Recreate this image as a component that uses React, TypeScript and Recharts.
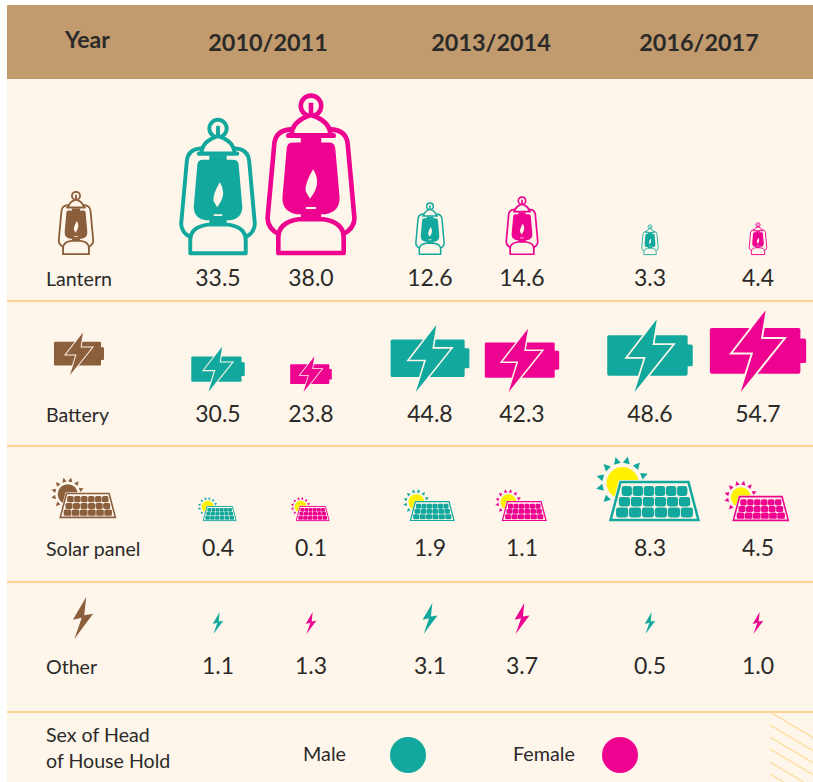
import { ReferenceArea, ReferenceLine, Scatter, ScatterChart, XAxis, YAxis } from "recharts";

const years = ["2010/2011", "2013/2014", "2016/2017"];
const sexes = ["Male", "Female"];
const sources = ["Lantern", "Battery", "Solar panel", "Other"];

const lanternMale = [33.5, 12.6, 3.3];
const lanternFemale = [38.0, 14.6, 4.4];
const batteryMale = [30.5, 44.8, 48.6];
const batteryFemale = [23.8, 42.3, 54.7];
const solarMale = [0.4, 1.9, 8.3];
const solarFemale = [0.1, 1.1, 4.5];
const otherMale = [1.1, 3.1, 0.5];
const otherFemale = [1.3, 3.7, 1.0];

const legendTitle = ["Sex of Head", "of House Hold"];

// layout, in page pixels (both axes run 0-813 / 0-782)
const W = 813;
const H = 782;
const yearX = [268, 491, 699];
const maleX = [218, 430, 650];
const femaleX = [311, 522, 758];
const rowTextY = [278, 414, 548, 666];
const iconBottom = [255, 392, 521, 634];
const keyX = [76, 79, 85, 83];
const keyBottom = [255, 375, 518, 639];
const dividers = [301, 446, 582, 712];
const hatchStarts = [712, 725, 737, 749, 762, 774];

const TEAL = "#12A89D";
const PINK = "#EE0290";
const BROWN = "#8B5E3C";
const CREAM = "#FEF6EA";
const INK = "#2B2A29";
const FONT = "Lato, sans-serif";

const sexColor: Record<string, string> = { Male: TEAL, Female: PINK };

// icon sizes grow with the value, fitted by eye per row
const lanternHeight = (v: number) => Math.max(30, 25 + 1.5 * v + 0.055 * v * v);
const batteryWidth = (v: number) => 1.77 * v - 0.5;
const solarWidth = (v: number) => (v < 1 ? 37 : v < 2 ? 49 : 18 + 9.74 * v);
const boltHeight = (v: number) => (v < 2 ? 22 : 31);

const Lantern = ({ cx, bottom, h, color }: any) => {
  const s = h / 158;
  return (
    <g transform={`translate(${cx - 44 * s} ${bottom - h}) scale(${s})`}>
      <circle cx={44} cy={12} r={10} fill="none" stroke={color} strokeWidth={4.5} />
      <path d="M44 9V20" stroke={color} strokeWidth={4.5} />
      <path d="M25 41Q25 27 44 21Q63 27 63 41" fill={CREAM} stroke={color} strokeWidth={4.5} />
      <path d="M22 41H66" stroke={color} strokeWidth={5} strokeLinecap="round" />
      <path
        d="M24 35Q9 36 8 50L1.5 122Q1.5 132 13 138M64 35Q79 36 80 50L86.5 122Q86.5 132 75 138"
        fill="none"
        stroke={color}
        strokeWidth={4.5}
        strokeLinecap="round"
      />
      <rect x={34} y={43} width={20} height={7} fill={color} />
      <path
        d="M26 48H62Q68 48 68 56L72 102Q72 116 58 118H30Q16 116 16 102L20 56Q20 48 26 48Z"
        fill={color}
      />
      <path d="M46 74Q37 90 39 96L43 103Q50 94 50 86Q50 80 46 74Z" fill={CREAM} />
      <path d="M39 112H49" stroke={CREAM} strokeWidth={2} />
      <rect x={34} y={117} width={20} height={7} fill={color} />
      <path
        d="M12 156V141Q12 126 32 123H56Q76 126 76 141V156Z"
        fill={CREAM}
        stroke={color}
        strokeWidth={4.5}
        strokeLinejoin="round"
      />
    </g>
  );
};

const Battery = ({ cx, bottom, w, color }: any) => {
  const s = w / 100;
  return (
    <g transform={`translate(${cx - 50 * s} ${bottom - 85 * s}) scale(${s})`}>
      <rect x={0} y={18.5} width={94} height={47.5} rx={2} fill={color} />
      <rect x={90} y={29.5} width={10} height={25.5} rx={2} fill={color} />
      <path
        d="M58 0L24 44H45L32 85L76 30H53Z"
        fill={color}
        stroke={CREAM}
        strokeWidth={4}
        paintOrder="stroke"
      />
    </g>
  );
};

const rayAngles = [-165, -135, -105, -79, -50, -20, 135, 168];
const solarRows = [
  [26, 36],
  [37, 46.5],
  [47.5, 57.5],
];

const Solar = ({ cx, bottom, w, color, sun }: any) => {
  const s = w / 99;
  const edge = (y: number) => 20 - ((y - 22) * 10) / 38.5;
  return (
    <g transform={`translate(${cx - 49.5 * s} ${bottom - 61 * s}) scale(${s})`}>
      {rayAngles.map((a) => (
        <path key={a} d="M20 -3.5L27 0L20 3.5Z" fill={color} transform={`translate(22 23) rotate(${a})`} />
      ))}
      <circle cx={22} cy={23} r={16} fill={sun} />
      <path d="M20 22H88L98 60H10Z" fill={CREAM} stroke={CREAM} strokeWidth={4} />
      <path d="M20 22H88L98 60H10Z" fill="none" stroke={color} strokeWidth={2.5} />
      {solarRows.map(([y0, y1]) => {
        const x0 = edge((y0 + y1) / 2) + 3;
        const cw = (108 - 2 * x0) / 6;
        return [0, 1, 2, 3, 4, 5].map((i) => (
          <rect
            key={`${y0}-${i}`}
            x={x0 + i * cw + 0.4}
            y={y0}
            width={cw - 0.8}
            height={y1 - y0}
            rx={2.5}
            fill={color}
          />
        ));
      })}
    </g>
  );
};

const Bolt = ({ cx, bottom, h, color }: any) => {
  const s = h / 42.5;
  return (
    <g transform={`translate(${cx - 10.25 * s} ${bottom - h}) scale(${s})`}>
      <path d="M13.5 0L0 23L9 21L1.5 42.5L20.5 17L11.5 18.5Z" fill={color} />
    </g>
  );
};

const rowIcon = (row: number, cx: number, bottom: number, v: number, color: string, sun: string) => {
  if (row === 0) return <Lantern cx={cx} bottom={bottom} h={lanternHeight(v)} color={color} />;
  if (row === 1) return <Battery cx={cx} bottom={bottom} w={batteryWidth(v)} color={color} />;
  if (row === 2) return <Solar cx={cx} bottom={bottom} w={solarWidth(v)} color={color} sun={sun} />;
  return <Bolt cx={cx} bottom={bottom} h={boltHeight(v)} color={color} />;
};

const ValueMark = (props: any) => {
  const { cx, cy, payload } = props;
  const color = sexColor[payload.sex];
  return (
    <g>
      {rowIcon(payload.row, cx, cy, payload.value, color, "#FFF200")}
      <text
        x={cx}
        y={rowTextY[payload.row] + 8}
        textAnchor="middle"
        fontFamily={FONT}
        fontSize={23}
        fill={INK}
      >
        {payload.value.toFixed(1)}
      </text>
    </g>
  );
};

const KeyMark = (props: any) => {
  const { cx, cy, payload } = props;
  if (payload.row === 0) return <Lantern cx={cx} bottom={cy} h={64} color={BROWN} />;
  if (payload.row === 1) return <Battery cx={cx} bottom={cy} w={50} color={BROWN} />;
  if (payload.row === 2) return <Solar cx={cx} bottom={cy} w={62} color={BROWN} sun={BROWN} />;
  return <Bolt cx={cx} bottom={cy} h={42} color={BROWN} />;
};

const SexMark = (props: any) => {
  const { cx, cy, payload } = props;
  return (
    <g>
      <circle cx={cx} cy={cy} r={18} fill={sexColor[payload.sex]} />
      <text
        x={payload.sex === "Male" ? 303 : 513}
        y={cy + 6}
        fontFamily={FONT}
        fontSize={19.8}
        fill={INK}
      >
        {payload.sex}
      </text>
    </g>
  );
};

const YearTick = ({ x, index }: any) => (
  <text x={x} y={51} textAnchor="middle" fontFamily={FONT} fontWeight={700} fontSize={23.4} fill={INK}>
    {years[index]}
  </text>
);

// row names and the legend title sit left-aligned on the y axis
const rowLabels = ["Year", ...sources, ...legendTitle];
const rowLabelY = [40, ...rowTextY, 734, 760];

const RowTick = ({ y, index }: any) => {
  const isYear = index === 0;
  return (
    <text
      x={isYear ? 65 : 46}
      y={y + 8}
      fontFamily={FONT}
      fontWeight={isYear ? 700 : 400}
      fontSize={isYear ? 23 : 19.6}
      fill={INK}
    >
      {rowLabels[index]}
    </text>
  );
};

const series = (row: number, sex: string, xs: number[], values: number[]) =>
  values.map((value, i) => ({ x: xs[i], y: iconBottom[row], value, row, sex }));

const rows = [
  [lanternMale, lanternFemale],
  [batteryMale, batteryFemale],
  [solarMale, solarFemale],
  [otherMale, otherFemale],
];

const keyData = sources.map((name, row) => ({ x: keyX[row], y: keyBottom[row], row, name }));
const sexData = sexes.map((sex, i) => ({ x: i === 0 ? 408 : 620, y: 755, sex }));

const hatchEnd = (y0: number) => {
  const toEdge = y0 + (W - 770) * 0.6;
  return toEdge <= H ? { x: W, y: toEdge } : { x: 770 + (H - y0) / 0.6, y: H };
};

export default function App() {
  return (
    <div style={{ position: "absolute", left: 0, top: 0, width: W, height: H, background: "#fff" }}>
      <ScatterChart width={W} height={H} margin={{ top: 0, right: 0, bottom: 0, left: 0 }}>
        <ReferenceArea x1={7} x2={W} y1={5} y2={H} fill={CREAM} fillOpacity={1} stroke="none" />
        <ReferenceArea x1={7} x2={W} y1={5} y2={79} fill="#C19A6D" fillOpacity={1} stroke="none" />
        <XAxis
          type="number"
          dataKey="x"
          domain={[0, W]}
          ticks={yearX}
          interval={0}
          orientation="top"
          mirror
          height={30}
          axisLine={false}
          tickLine={false}
          tick={YearTick}
        />
        <YAxis
          type="number"
          dataKey="y"
          domain={[0, H]}
          reversed
          ticks={rowLabelY}
          interval={0}
          mirror
          width={40}
          axisLine={false}
          tickLine={false}
          tick={RowTick}
        />
        {dividers.map((y) => (
          <ReferenceLine
            key={y}
            segment={[{ x: 7, y }, { x: W, y }]}
            stroke="#FBC775"
            strokeWidth={1.5}
          />
        ))}
        {hatchStarts.map((y0) => (
          <ReferenceLine
            key={y0}
            segment={[{ x: 770, y: y0 }, hatchEnd(y0)]}
            stroke="#FCDC95"
            strokeWidth={1.2}
          />
        ))}
        {rows.flatMap(([male, female], row) => [
          <Scatter
            key={`${row}m`}
            name={`${sources[row]} male`}
            data={series(row, "Male", maleX, male)}
            shape={ValueMark}
            isAnimationActive={false}
          />,
          <Scatter
            key={`${row}f`}
            name={`${sources[row]} female`}
            data={series(row, "Female", femaleX, female)}
            shape={ValueMark}
            isAnimationActive={false}
          />,
        ])}
        <Scatter name="Row keys" data={keyData} shape={KeyMark} isAnimationActive={false} />
        <Scatter name="Sex" data={sexData} shape={SexMark} isAnimationActive={false} />
      </ScatterChart>
    </div>
  );
}
